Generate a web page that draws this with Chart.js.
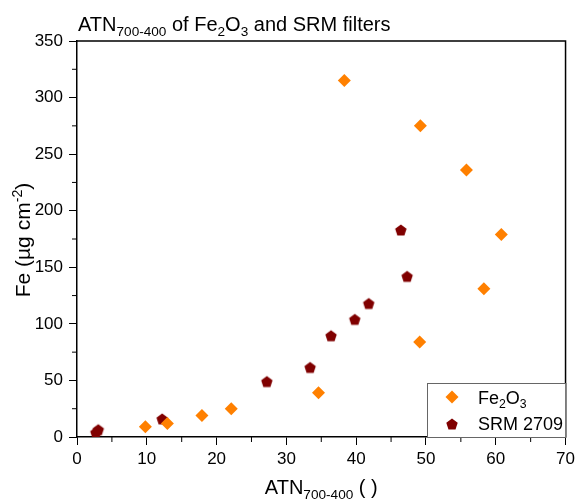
<!DOCTYPE html>
<html>
<head>
<meta charset="utf-8">
<script src="https://cdn.jsdelivr.net/npm/chart.js@4"></script>
<style>
  body { margin: 0; background: #fff; }
</style>
</head>
<body>
<canvas id="feChart" width="579" height="500"></canvas>
<script>
// values
const fe2o3X = [9.8, 12.95, 17.9, 22.1, 34.6, 38.3, 49.1, 49.2, 55.8, 58.3, 60.8];
const fe2o3Y = [9, 12, 19, 25, 39, 315, 84, 275, 236, 131, 179];
const srmX = [2.7, 3.05, 12.2, 27.2, 33.4, 36.4, 39.8, 41.8, 46.4, 47.3];
const srmY = [4, 6.5, 16, 49, 61.5, 89.5, 104, 118, 183, 142];
const xTicks = [0, 10, 20, 30, 40, 50, 60, 70];
const yTicks = [0, 50, 100, 150, 200, 250, 300, 350];

const FONT = 'Liberation Sans, Arial, sans-serif';
const ORANGE = '#ff8000';
const MAROON = '#800000';

function toPoints(xs, ys) {
    return xs.map((x, i) => ({ x: x, y: ys[i] }));
}

// pentagon marker (Chart.js has no pentagon style)
function makePentagon(r, color) {
    const c = document.createElement('canvas');
    const s = Math.ceil(r * 2 + 2);
    c.width = s; c.height = s;
    const g = c.getContext('2d');
    g.fillStyle = color;
    g.beginPath();
    for (let i = 0; i < 5; i++) {
        const a = -Math.PI / 2 + i * 2 * Math.PI / 5;
        const px = s / 2 + r * Math.cos(a);
        const py = s / 2 + 0.6 + r * Math.sin(a);
        if (i === 0) g.moveTo(px, py); else g.lineTo(px, py);
    }
    g.closePath();
    g.fill();
    return c;
}
const pentagon = makePentagon(6, MAROON);

// draw text pieces with sub/superscripts, returns width
function richText(ctx, parts, x, y, size, measureOnly) {
    let cx = x;
    parts.forEach(([t, mode]) => {
        const fs = mode ? size * 0.68 : size;
        ctx.font = fs + 'px ' + FONT;
        let dy = 0;
        if (mode === 'sub') dy = size * 0.24;
        if (mode === 'sup') dy = -size * 0.4;
        if (!measureOnly) ctx.fillText(t, cx, y + dy);
        cx += ctx.measureText(t).width;
    });
    return cx - x;
}

const decorPlugin = {
    id: 'decor',
    afterDraw(chart) {
        const ctx = chart.ctx;
        const area = chart.chartArea;
        const xs = chart.scales.x, ys = chart.scales.y;
        ctx.save();
        ctx.strokeStyle = '#000';
        ctx.lineWidth = 1.5;

        // top and right frame
        ctx.beginPath();
        ctx.moveTo(area.left, area.top);
        ctx.lineTo(area.right, area.top);
        ctx.lineTo(area.right, area.bottom);
        ctx.stroke();

        // minor ticks
        ctx.lineWidth = 1;
        ctx.beginPath();
        for (let i = 0; i < xTicks.length - 1; i++) {
            const px = xs.getPixelForValue((xTicks[i] + xTicks[i + 1]) / 2);
            ctx.moveTo(px, area.bottom);
            ctx.lineTo(px, area.bottom + 5);
        }
        for (let i = 0; i < yTicks.length - 1; i++) {
            const py = ys.getPixelForValue((yTicks[i] + yTicks[i + 1]) / 2);
            ctx.moveTo(area.left, py);
            ctx.lineTo(area.left - 5, py);
        }
        ctx.stroke();

        ctx.fillStyle = '#000';
        ctx.textBaseline = 'alphabetic';
        ctx.textAlign = 'left';

        // chart title
        richText(ctx, [['ATN', ''], ['700-400', 'sub'], [' of Fe', ''], ['2', 'sub'], ['O', ''], ['3', 'sub'], [' and SRM filters', '']], 78, 31, 20);

        // x axis title
        const xParts = [['ATN', ''], ['700-400', 'sub'], [' ( )', '']];
        const xw = richText(ctx, xParts, 0, 0, 20, true);
        richText(ctx, xParts, (area.left + area.right) / 2 - xw / 2, 494, 20);

        // y axis title
        const yParts = [['Fe (\u00b5g cm', ''], ['-2', 'sup'], [')', '']];
        const yw = richText(ctx, yParts, 0, 0, 21, true);
        ctx.translate(30, 240);
        ctx.rotate(-Math.PI / 2);
        richText(ctx, yParts, -yw / 2, 0, 21);
        ctx.setTransform(1, 0, 0, 1, 0, 0);

        // legend box
        const lx = 427, ly = 383;
        ctx.fillStyle = '#fff';
        ctx.fillRect(lx, ly, area.right - lx, area.bottom - ly);
        ctx.strokeStyle = '#666';
        ctx.lineWidth = 1;
        ctx.strokeRect(lx + 0.5, ly + 0.5, area.right - lx, area.bottom - ly);

        // legend entries
        ctx.fillStyle = ORANGE;
        const mx = 452, m1 = 397, m2 = 424;
        ctx.beginPath();
        ctx.moveTo(mx, m1 - 6.5);
        ctx.lineTo(mx + 6.5, m1);
        ctx.lineTo(mx, m1 + 6.5);
        ctx.lineTo(mx - 6.5, m1);
        ctx.closePath();
        ctx.fill();
        ctx.drawImage(pentagon, mx - pentagon.width / 2, m2 - pentagon.height / 2);

        ctx.fillStyle = '#000';
        richText(ctx, [['Fe', ''], ['2', 'sub'], ['O', ''], ['3', 'sub']], 478, 404, 18);
        richText(ctx, [[chart.data.datasets[1].label, '']], 478, 430, 18);
        ctx.restore();
    }
};

const ctx = document.getElementById('feChart').getContext('2d');
new Chart(ctx, {
    type: 'scatter',
    data: {
        datasets: [{
            label: 'Fe2O3',
            data: toPoints(fe2o3X, fe2o3Y),
            pointStyle: 'rectRot',
            pointRadius: 6.5,
            pointHoverRadius: 6.5,
            backgroundColor: ORANGE,
            borderWidth: 0
        }, {
            label: 'SRM 2709',
            data: toPoints(srmX, srmY),
            pointStyle: pentagon,
            backgroundColor: MAROON,
            borderWidth: 0
        }]
    },
    options: {
        responsive: false,
        animation: false,
        devicePixelRatio: 1,
        layout: { padding: { left: 0, right: 12, top: 41, bottom: 0 } },
        plugins: {
            legend: { display: false },
            title: { display: false },
            tooltip: { enabled: false }
        },
        scales: {
            x: {
                type: 'linear',
                min: 0,
                max: 70,
                afterFit: s => { s.height = 63; },
                afterBuildTicks: s => { s.ticks = xTicks.map(v => ({ value: v })); },
                ticks: { color: '#000', font: { family: FONT, size: 17 }, padding: 4, maxRotation: 0 },
                grid: { drawOnChartArea: false, tickLength: 8, tickColor: '#000', tickWidth: 1 },
                border: { color: '#000', width: 1.5 }
            },
            y: {
                min: 0,
                max: 350,
                afterFit: s => { s.width = 77; },
                afterBuildTicks: s => { s.ticks = yTicks.map(v => ({ value: v })); },
                ticks: { color: '#000', font: { family: FONT, size: 17 }, padding: 6 },
                grid: { drawOnChartArea: false, tickLength: 8, tickColor: '#000', tickWidth: 1 },
                border: { color: '#000', width: 1.5 }
            }
        }
    },
    plugins: [decorPlugin]
});
</script>
</body>
</html>
